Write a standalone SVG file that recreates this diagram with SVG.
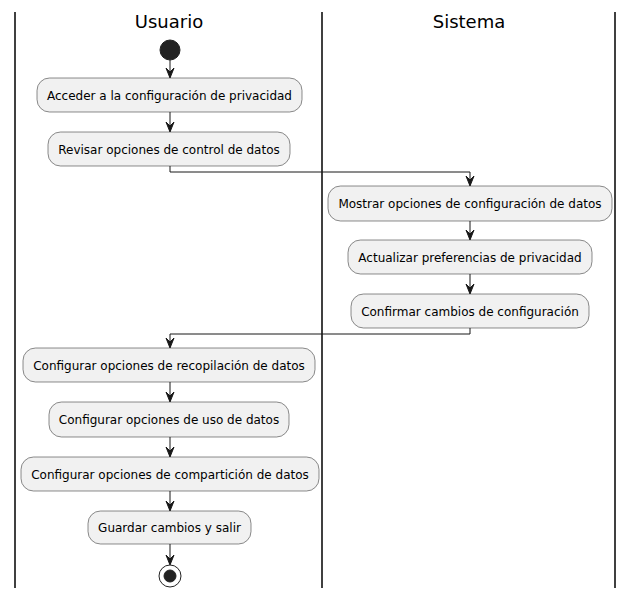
<svg xmlns="http://www.w3.org/2000/svg" width="634" height="597" viewBox="0 0 634 597">
<style>
.lane{stroke:#000;stroke-width:1.5;}
.title{font-family:"DejaVu Sans",sans-serif;font-size:18px;fill:#000;text-anchor:middle;}
.box{fill:#F1F1F1;stroke:#181818;stroke-width:0.5;}
.lbl{font-family:"DejaVu Sans",sans-serif;font-size:12px;fill:#000;text-anchor:middle;}
.edge{fill:none;stroke:#181818;stroke-width:1;}
.head{fill:#181818;stroke:#181818;stroke-width:1;}
</style>
<rect width="634" height="597" fill="#FFFFFF"/>
<g id="lanes">
<line class="lane" x1="15" y1="12" x2="15" y2="588"/>
<line class="lane" x1="322" y1="12" x2="322" y2="588"/>
<line class="lane" x1="615" y1="12" x2="615" y2="588"/>
<text class="title" x="169" y="28">Usuario</text>
<text class="title" x="469" y="28">Sistema</text>
</g>
<g id="connectors">
<line class="edge" x1="170" y1="60" x2="170" y2="77"/>
<polygon class="head" points="166,68 170,78 174,68 170,72"/>
<line class="edge" x1="170" y1="112" x2="170" y2="131"/>
<polygon class="head" points="166,122 170,132 174,122 170,126"/>
<polyline class="edge" points="170,166 170,172 470,172 470,185"/>
<polygon class="head" points="466,176 470,186 474,176 470,180"/>
<line class="edge" x1="470" y1="221" x2="470" y2="239"/>
<polygon class="head" points="466,230 470,240 474,230 470,234"/>
<line class="edge" x1="470" y1="274" x2="470" y2="293"/>
<polygon class="head" points="466,284 470,294 474,284 470,288"/>
<polyline class="edge" points="470,328 470,334 170,334 170,347"/>
<polygon class="head" points="166,338 170,348 174,338 170,342"/>
<line class="edge" x1="170" y1="382" x2="170" y2="401"/>
<polygon class="head" points="166,392 170,402 174,392 170,396"/>
<line class="edge" x1="170" y1="437" x2="170" y2="456"/>
<polygon class="head" points="166,447 170,457 174,447 170,451"/>
<line class="edge" x1="170" y1="491" x2="170" y2="510"/>
<polygon class="head" points="166,501 170,511 174,501 170,505"/>
<line class="edge" x1="170" y1="544" x2="170" y2="564"/>
<polygon class="head" points="166,555 170,565 174,555 170,559"/>
</g>
<g id="start"><circle cx="170" cy="50" r="10" fill="#222222" stroke="#222222"/></g>
<g id="n1"><rect class="box" x="37" y="78" width="265" height="34" rx="12.5"/><text class="lbl" x="169.5" y="99.5">Acceder a la configuración de privacidad</text></g>
<g id="n2"><rect class="box" x="48" y="132" width="242" height="34" rx="12.5"/><text class="lbl" x="169" y="153.5">Revisar opciones de control de datos</text></g>
<g id="n3"><rect class="box" x="328" y="186" width="284" height="35" rx="12.5"/><text class="lbl" x="470" y="208">Mostrar opciones de configuración de datos</text></g>
<g id="n4"><rect class="box" x="348" y="240" width="244" height="34" rx="12.5"/><text class="lbl" x="470" y="261.5">Actualizar preferencias de privacidad</text></g>
<g id="n5"><rect class="box" x="351" y="294" width="238" height="34" rx="12.5"/><text class="lbl" x="470" y="315.5">Confirmar cambios de configuración</text></g>
<g id="n6"><rect class="box" x="23" y="348" width="292" height="34" rx="12.5"/><text class="lbl" x="169" y="369.5">Configurar opciones de recopilación de datos</text></g>
<g id="n7"><rect class="box" x="49" y="402" width="240" height="35" rx="12.5"/><text class="lbl" x="169" y="424">Configurar opciones de uso de datos</text></g>
<g id="n8"><rect class="box" x="21" y="457" width="298" height="34" rx="12.5"/><text class="lbl" x="170" y="478.5">Configurar opciones de compartición de datos</text></g>
<g id="n9"><rect class="box" x="88" y="511" width="163" height="33" rx="12.5"/><text class="lbl" x="169.5" y="532">Guardar cambios y salir</text></g>
<g id="end"><circle cx="170" cy="576" r="11" fill="none" stroke="#222222" stroke-width="1"/><circle cx="170" cy="576" r="6" fill="#222222" stroke="#222222"/></g>
</svg>
